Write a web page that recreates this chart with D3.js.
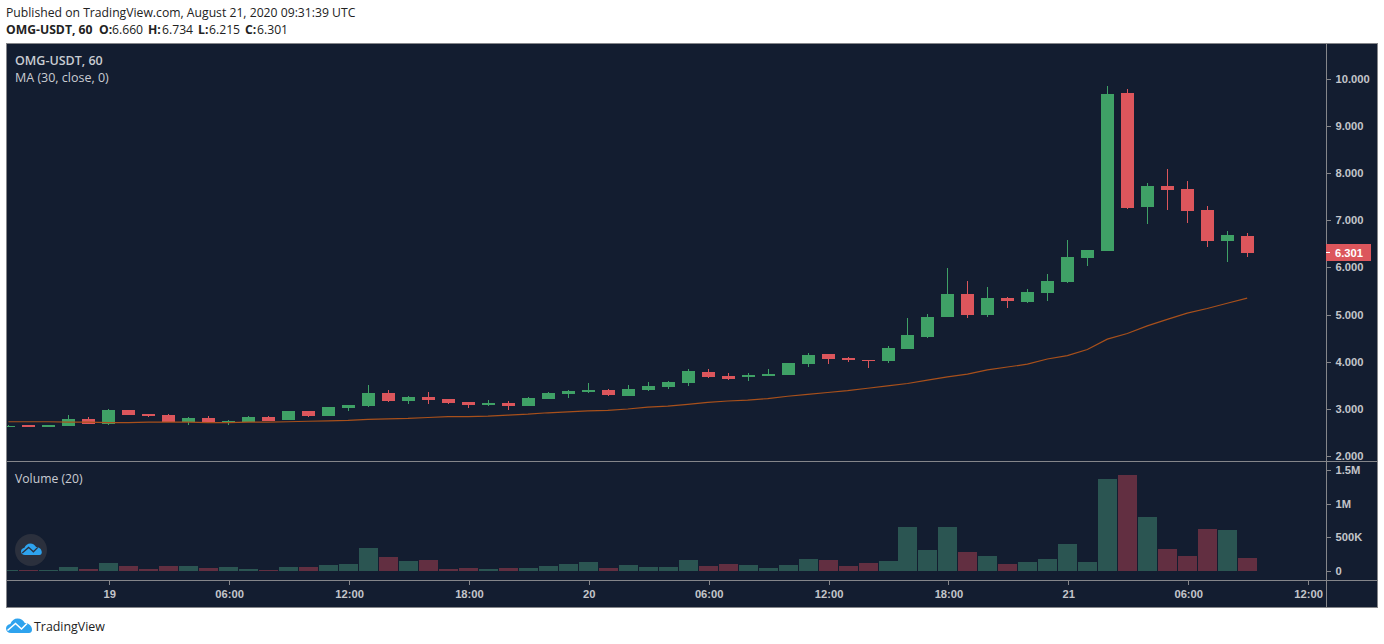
<!DOCTYPE html>
<html lang="en">
    <head>
        <meta charset="utf-8">
        <title>OMG-USDT, 60</title>
        <script type="text/javascript" src="https://d3js.org/d3.v7.min.js"></script>
        <style type="text/css">
            html, body { margin: 0; padding: 0; background: #fff; overflow: hidden; }
            svg { display: block; }
            .head { font-family: "Open Sans", sans-serif; font-size: 12.2px; fill: #222; }
            .pane-label { font-family: "Open Sans", sans-serif; font-size: 12.5px; fill: #c9ccd2; }
            .axis text { font-family: "Liberation Sans", sans-serif; font-size: 11.2px; font-weight: 700; fill: #c3c5ca; }
            .axis path, .axis line { stroke: #85868a; shape-rendering: crispEdges; }
        </style>
    </head>
    <body>
        <div id="chart"></div>
        <script type="text/javascript">

            // hourly candles. first candle is Aug 18 19:00
            var openPrices = [2.62,2.66,2.61,2.64,2.79,2.68,2.98,2.89,2.87,2.72,2.81,2.72,2.72,2.83,2.77,2.96,2.85,3.02,3.06,3.34,3.17,3.25,3.21,3.15,3.08,3.13,3.06,3.21,3.32,3.36,3.40,3.28,3.40,3.47,3.55,3.78,3.70,3.68,3.70,3.72,3.95,4.17,4.08,4.04,4.02,4.27,4.53,4.95,5.44,4.99,5.35,5.27,5.46,5.69,6.20,6.35,9.69,7.28,7.72,7.66,7.21,6.56,6.66];
            var highPrices = [2.66,2.66,2.66,2.87,2.82,3.00,2.98,2.89,2.89,2.83,2.85,2.77,2.85,2.85,2.96,2.96,3.04,3.08,3.51,3.40,3.28,3.36,3.21,3.15,3.19,3.17,3.25,3.36,3.40,3.55,3.42,3.51,3.57,3.59,3.85,3.85,3.76,3.76,3.85,3.97,4.19,4.17,4.10,4.04,4.33,4.93,5.01,5.99,5.71,5.58,5.37,5.54,5.86,6.58,6.37,9.84,9.78,7.79,8.08,7.83,7.30,6.77,6.734];
            var lowPrices = [2.62,2.61,2.61,2.64,2.68,2.66,2.87,2.83,2.72,2.66,2.72,2.66,2.72,2.75,2.77,2.83,2.85,2.96,3.04,3.15,3.11,3.11,3.11,3.02,3.06,2.98,3.06,3.21,3.23,3.34,3.28,3.28,3.38,3.42,3.49,3.66,3.61,3.59,3.70,3.72,3.89,3.95,3.99,3.87,3.97,4.27,4.50,4.95,4.93,4.95,5.14,5.24,5.29,5.67,6.03,6.35,7.24,6.92,7.22,6.94,6.43,6.11,6.215];
            var closePrices = [2.64,2.61,2.66,2.79,2.68,2.98,2.87,2.85,2.72,2.81,2.72,2.75,2.83,2.75,2.96,2.85,3.04,3.08,3.34,3.17,3.25,3.19,3.13,3.09,3.13,3.06,3.23,3.34,3.38,3.40,3.30,3.42,3.49,3.57,3.81,3.68,3.64,3.72,3.74,3.97,4.14,4.06,4.04,4.02,4.29,4.57,4.95,5.44,4.99,5.35,5.29,5.48,5.71,6.22,6.37,9.67,7.26,7.72,7.64,7.19,6.56,6.68,6.301];
            var maValues = [2.73,2.73,2.73,2.72,2.72,2.71,2.71,2.72,2.72,2.72,2.71,2.71,2.72,2.72,2.73,2.74,2.75,2.76,2.78,2.79,2.80,2.82,2.84,2.84,2.85,2.87,2.89,2.92,2.94,2.96,2.97,3.00,3.04,3.06,3.10,3.14,3.17,3.19,3.22,3.27,3.31,3.35,3.39,3.44,3.49,3.54,3.61,3.68,3.74,3.83,3.89,3.95,4.06,4.13,4.26,4.48,4.60,4.76,4.90,5.03,5.13,5.24,5.35];
            var volumes = [15,15,15,59,30,119,74,30,74,74,45,59,30,15,59,59,89,104,342,208,149,163,30,45,30,45,45,74,104,134,45,89,59,59,163,74,104,89,45,89,178,163,74,119,149,653,312,653,282,223,104,134,178,401,134,1366,1426,802,327,223,624,609,193];

            var priceTicks = [2,3,4,5,6,7,8,9,10];
            var volumeTicks = [0,500,1000,1500];
            var volumeTickLabels = ["0","500K","1M","1.5M"];
            var timeTickIndex = [5,11,17,23,29,35,41,47,53,59,65];
            var timeTickLabels = ["19","06:00","12:00","18:00","20","06:00","12:00","18:00","21","06:00","12:00"];
            var lastPrice = 6.301;

            var bg = "#131d30",
                up = "#3fa166",
                down = "#dc565c",
                upVol = "#2b5552",
                downVol = "#622f41";

            var width = 1384, height = 644;
            var frame = {left: 6.5, top: 43.5, right: 1377.5, bottom: 607.5, axisX: 1326.5, split: 461.5, timeY: 580.5};

            var svg = d3.select("#chart")
                .append("svg")
                    .attr("width", width)
                    .attr("height", height);

            // headline above the chart
            svg.append("text").attr("class", "head").attr("x", 6).attr("y", 17)
                .text("Published on TradingView.com, August 21, 2020 09:31:39 UTC");
            var head2 = svg.append("text").attr("class", "head").attr("y", 34);
            [["OMG-USDT, 60", 1, 6], ["O:", 1, 99], ["6.660", 0, 112], ["H:", 1, 148], ["6.734", 0, 162], ["L:", 1, 198], ["6.215", 0, 209], ["C:", 1, 245], ["6.301", 0, 257]]
                .forEach(function(p) {
                    head2.append("tspan").attr("x", p[2]).attr("font-weight", p[1] ? 700 : 400).text(p[0]);
                });

            svg.append("rect")
                .attr("x", frame.left).attr("y", frame.top)
                .attr("width", frame.right - frame.left).attr("height", frame.bottom - frame.top)
                .attr("fill", bg);

            svg.append("clipPath").attr("id", "pane")
                .append("rect")
                    .attr("x", frame.left).attr("y", frame.top)
                    .attr("width", frame.axisX - frame.left).attr("height", frame.timeY - frame.top);

            // scales
            var x = d3.scaleLinear().domain([0, 65]).range([8.4, 1307.1]);
            var y = d3.scaleLinear().domain([2, 10]).range([456.2, 78.6]);
            var yVol = d3.scaleLinear().domain([0, 1500]).range([571, 470]);
            var tickX = d3.scaleLinear().domain([0, 65]).range([9.4, 1308.1]);

            var idx = d3.range(openPrices.length);
            var isUp = function(i) { return closePrices[i] >= openPrices[i]; };
            var plot = svg.append("g").attr("clip-path", "url(#pane)");

            // volume bars
            plot.append("g").selectAll("rect")
                .data(idx).enter().append("rect")
                    .attr("x", function(i) { return Math.round(x(i)) - 9; })
                    .attr("width", 19)
                    .attr("y", function(i) { return Math.round(yVol(volumes[i])); })
                    .attr("height", function(i) { return 571 - Math.round(yVol(volumes[i])); })
                    .attr("fill", function(i) { return isUp(i) ? upVol : downVol; })
                    .attr("shape-rendering", "crispEdges");

            // wicks
            plot.append("g").selectAll("line")
                .data(idx).enter().append("line")
                    .attr("x1", function(i) { return Math.round(x(i)) + 0.5; })
                    .attr("x2", function(i) { return Math.round(x(i)) + 0.5; })
                    .attr("y1", function(i) { return y(highPrices[i]); })
                    .attr("y2", function(i) { return y(lowPrices[i]); })
                    .attr("stroke", function(i) { return isUp(i) ? up : down; })
                    .attr("shape-rendering", "crispEdges");

            // candle bodies
            plot.append("g").selectAll("rect")
                .data(idx).enter().append("rect")
                    .attr("x", function(i) { return Math.round(x(i)) - 6; })
                    .attr("width", 13)
                    .attr("y", function(i) { return Math.round(y(Math.max(openPrices[i], closePrices[i]))); })
                    .attr("height", function(i) {
                        return Math.max(1, Math.round(y(Math.min(openPrices[i], closePrices[i]))) - Math.round(y(Math.max(openPrices[i], closePrices[i]))));
                    })
                    .attr("fill", function(i) { return isUp(i) ? up : down; })
                    .attr("shape-rendering", "crispEdges");

            // moving average
            plot.append("path")
                .datum(idx)
                .attr("fill", "none")
                .attr("stroke", "#a8501b")
                .attr("stroke-width", 1.2)
                .attr("d", d3.line()
                    .x(function(i) { return x(i); })
                    .y(function(i) { return y(maValues[i]); })
                );

            // axes
            var priceAxis = svg.append("g").attr("class", "axis")
                .attr("transform", "translate(" + frame.axisX + ",0)")
                .call(d3.axisRight(y).tickValues(priceTicks).tickSize(4).tickPadding(5)
                    .tickFormat(function(d) { return d3.format(".3f")(d); }));
            priceAxis.select(".domain").remove();

            var volAxis = svg.append("g").attr("class", "axis")
                .attr("transform", "translate(" + frame.axisX + ",0)")
                .call(d3.axisRight(yVol).tickValues(volumeTicks).tickSize(4).tickPadding(5)
                    .tickFormat(function(d, i) { return volumeTickLabels[i]; }));
            volAxis.select(".domain").remove();

            var timeAxis = svg.append("g").attr("class", "axis")
                .attr("transform", "translate(0," + frame.timeY + ")")
                .call(d3.axisBottom(tickX).tickValues(timeTickIndex).tickSize(4).tickPadding(6)
                    .tickFormat(function(d, i) { return timeTickLabels[i]; }));
            timeAxis.select(".domain").remove();

            // frame and separators
            var rule = "#85868a";
            svg.append("rect")
                .attr("x", frame.left).attr("y", frame.top)
                .attr("width", frame.right - frame.left).attr("height", frame.bottom - frame.top)
                .attr("fill", "none").attr("stroke", rule);
            svg.append("line").attr("x1", frame.axisX).attr("x2", frame.axisX)
                .attr("y1", frame.top).attr("y2", frame.bottom).attr("stroke", rule);
            svg.append("line").attr("x1", frame.left).attr("x2", frame.right)
                .attr("y1", frame.split).attr("y2", frame.split).attr("stroke", rule);
            svg.append("line").attr("x1", frame.left).attr("x2", frame.right)
                .attr("y1", frame.timeY).attr("y2", frame.timeY).attr("stroke", rule);

            // last price tag
            var tagY = Math.floor(y(lastPrice)) - 1;
            svg.append("rect")
                .attr("x", 1326).attr("y", tagY - 8)
                .attr("width", 45).attr("height", 17)
                .attr("fill", down);
            svg.append("line").attr("x1", 1326).attr("x2", 1330)
                .attr("y1", tagY + 0.5).attr("y2", tagY + 0.5)
                .attr("stroke", "#fff");
            svg.append("text").attr("x", 1335).attr("y", tagY + 4.5)
                .attr("font-family", "Liberation Sans").attr("font-size", 11.2).attr("font-weight", 700)
                .attr("fill", "#fff").text("6.301");

            // pane legends
            svg.append("text").attr("class", "pane-label").attr("x", 15).attr("y", 65)
                .attr("font-weight", 600).text("OMG-USDT, 60");
            svg.append("text").attr("class", "pane-label").attr("x", 15).attr("y", 82)
                .text("MA (30, close, 0)");
            svg.append("text").attr("class", "pane-label").attr("x", 15).attr("y", 483)
                .attr("font-size", 12).style("font-size", "12.2px")
                .text("Volume (20)");

            // TradingView cloud, used in the pane badge and the footer
            var cloud = "M5 15C2 15 0 13 0 10.5C0 8 2 6.3 4.3 6C5.5 2.5 8.5 .5 11.5 .5C15 .5 17.5 2.5 18.8 5C22.5 4.8 26 8 26 11.5C26 13.5 25 15 23 15Z";
            var zigzag = "M1.5 12.5L9.5 5.5L15.5 11L21 5.5";

            function drawLogo(tx, ty, k, lineColor) {
                var g = svg.append("g").attr("transform", "translate(" + tx + "," + ty + ") scale(" + k + ")");
                g.append("path").attr("d", cloud).attr("fill", "#2ea3ee");
                g.append("path").attr("d", zigzag).attr("fill", "none")
                    .attr("stroke", lineColor).attr("stroke-width", 1.6);
            }

            svg.append("circle").attr("cx", 31).attr("cy", 550).attr("r", 16).attr("fill", "#2b303d");
            drawLogo(21, 543, 0.8, "#2b303d");
            drawLogo(6, 618, 1, "#fff");

            svg.append("text").attr("x", 34).attr("y", 631)
                .attr("font-family", "Open Sans").attr("font-size", 12.4).attr("fill", "#222")
                .text("TradingView");

        </script>
    </body>
</html>
